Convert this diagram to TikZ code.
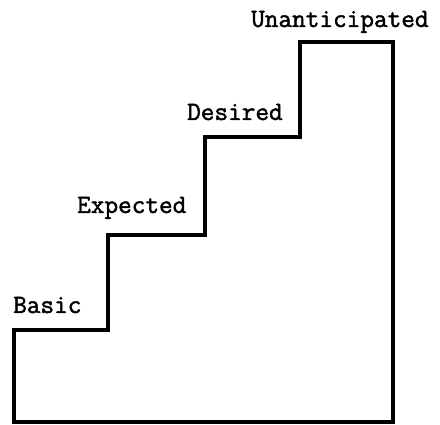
\documentclass[tikz,border=0pt]{standalone}
\usepackage{fontspec}
\newfontfamily\lblfont[FakeBold=1.6]{Latin Modern Mono}
\begin{document}
\begin{tikzpicture}[x=1pt,y=-1pt,
  lbl/.style={font=\lblfont\fontsize{26.5}{30}\selectfont, anchor=base west, inner sep=0pt},
  stair/.style={line width=3.4pt, line join=miter}]
\useasboundingbox (0,0) rectangle (440,425);
\draw[stair] (14,422) -- (14,330) -- (108,330) -- (108,235) -- (205,235) -- (205,137) -- (300,137) -- (300,42) -- (393,42) -- (393,422) -- cycle;
\node[lbl] (basic) at (13,313) {Basic};
\node[lbl] (expected) at (77,213) {Expected};
\node[lbl] (desired) at (187,120) {Desired};
\node[lbl] (unant) at (251,27) {Unanticipated};
\end{tikzpicture}
\end{document}
